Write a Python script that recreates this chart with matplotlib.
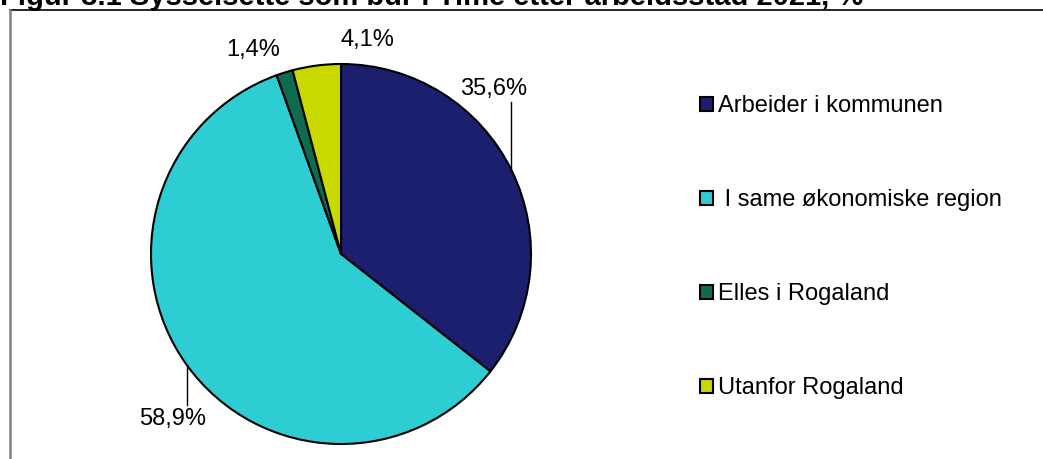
import numpy as np
import matplotlib.pyplot as plt
plt.switch_backend('agg')
from matplotlib.lines import Line2D

plt.rcParams['font.family'] = ['Liberation Sans', 'DejaVu Sans']

categories = ['Arbeider i kommunen', ' I same økonomiske region', 'Elles i Rogaland', 'Utanfor Rogaland']
values = [35.6, 58.9, 1.4, 4.1]
value_labels = ['35,6%', '58,9%', '1,4%', '4,1%']
colors = ['#1b1f6e', '#2ecdd3', '#0e6b50', '#c8d800']

W, H = 1043, 459
fig = plt.figure(figsize=(W / 100, H / 100), dpi=100)

# frame around chart area (top + left only visible)
fig.add_artist(Line2D([10 / W, 1], [1 - 10 / H, 1 - 10 / H], color='black', lw=1.2))
fig.add_artist(Line2D([10 / W, 10 / W], [0, 1 - 10 / H], color='#808080', lw=1.8))

fig.text(0, 1 - 5 / H, 'Figur 3.1 Sysselsette som bur i Time etter arbeidsstad 2021, %',
         fontsize=21, fontweight='bold', va='baseline', ha='left')

cx, cy, r = 341, 254, 190
ax = fig.add_axes([(cx - r) / W, (H - cy - r) / H, 2 * r / W, 2 * r / H])
wedges, _ = ax.pie(values, colors=colors, startangle=90, counterclock=False,
                   wedgeprops=dict(edgecolor='black', linewidth=1.5))
ax.set_xlim(-1, 1)
ax.set_ylim(-1, 1)
ax.set_aspect('equal')
ax.axis('off')

# label positions (in pie radius units)
label_pos = [(0.805, 0.868), (-0.884, -0.868), (-0.463, 1.074), (0.137, 1.126)]
for (lx, ly), txt in zip(label_pos, value_labels):
    ax.text(lx, ly, txt, fontsize=17, ha='center', va='center')

# leader lines
x1 = 0.895
ax.plot([x1, x1], [0.80, np.sqrt(1 - x1 ** 2)], color='black', lw=1, clip_on=False)
x2 = -0.811
ax.plot([x2, x2], [-0.795, -np.sqrt(1 - x2 ** 2)], color='black', lw=1, clip_on=False)

fig.legend(wedges, categories, loc='upper left', bbox_to_anchor=(700 / W, 1 - 95 / H),
           frameon=False, fontsize=17, handlelength=0.55, handleheight=0.55,
           handletextpad=0.2, labelspacing=3.05, borderpad=0, borderaxespad=0)

fig.savefig('out.png', dpi=100)
